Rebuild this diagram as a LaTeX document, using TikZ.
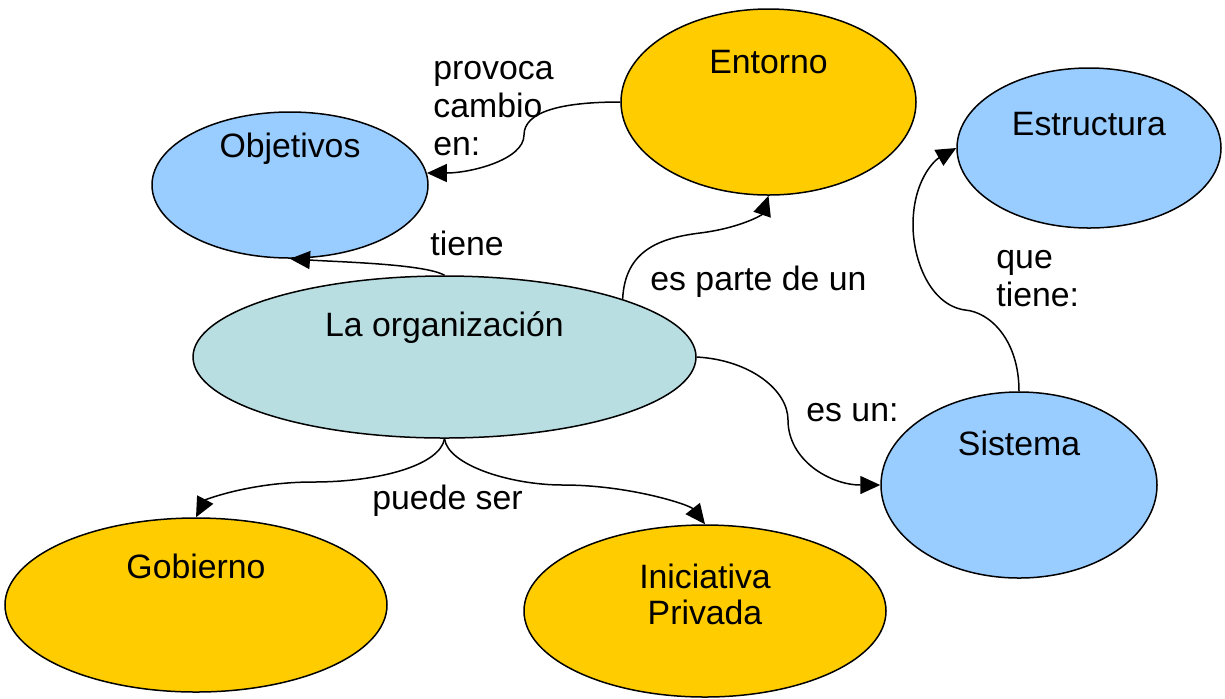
\documentclass[tikz,border=0pt]{standalone}
\usepackage{fontspec}
\setmainfont{Liberation Sans}
\usetikzlibrary{shapes.geometric,arrows.meta}
\definecolor{cyel}{HTML}{FFCC00}
\definecolor{cblu}{HTML}{99CCFF}
\definecolor{cteal}{RGB}{184,222,226}
\begin{document}
\begin{tikzpicture}[x=0.5pt,y=-0.5pt,
  font=\fontsize{16.9}{19}\selectfont,
  oval/.style={ellipse,draw=black,line width=0.75pt,inner sep=0pt},
  conn/.style={line width=0.75pt,-{Triangle[length=10pt,width=9pt]}},
  lbl/.style={anchor=base west,inner sep=0pt}]
\useasboundingbox (0,0) rectangle (1225,698);
\node[oval,fill=cyel,minimum width=147.5pt,minimum height=93pt,
  label={[anchor=base,yshift=20pt]center:Entorno}] (ent) at (768.5,102) {};
\node[oval,fill=cblu,minimum width=138pt,minimum height=73pt,
  label={[anchor=base,yshift=18pt]center:Objetivos}] (obj) at (290,185) {};
\node[oval,fill=cblu,minimum width=132pt,minimum height=80pt,
  label={[anchor=base,yshift=12pt]center:Estructura}] (est) at (1089,148) {};
\node[oval,fill=cteal,minimum width=251.5pt,minimum height=81pt,
  label={[anchor=base,yshift=14.5pt]center:La organización}] (org) at (444.5,357) {};
\node[oval,fill=cblu,minimum width=138pt,minimum height=93pt,
  label={[anchor=base,yshift=21pt]center:Sistema}] (sis) at (1019,485) {};
\node[oval,fill=cyel,minimum width=191pt,minimum height=87pt,
  label={[anchor=base,yshift=19.5pt]center:Gobierno}] (gob) at (196,605) {};
\node[oval,fill=cyel,minimum width=181pt,minimum height=86pt,
  label={[anchor=base,yshift=8.5pt]center:{\vtop{\baselineskip=18pt\hbox to 0pt{\hss Iniciativa\hss}\hbox to 0pt{\hss Privada\hss}}}}] (ini) at (705,611) {};
% connectors
\draw[conn] (ent.west) .. controls (560,102) and (524,112) .. (524,135)
  .. controls (524,160) and (470,173) .. (obj.5);
\draw[conn] (org.north) .. controls (425,264) and (340,262) .. (obj.south);
\draw[conn] (org.18) .. controls (625,250) and (660,238) .. (700,233)
  .. controls (740,228) and (762,215) .. (ent.south);
\draw[conn] (org.east) .. controls (750,360) and (788,390) .. (788,420)
  .. controls (788,460) and (830,485) .. (sis.west);
\draw[conn] (sis.north) .. controls (1019,340) and (990,312) .. (965,310)
  .. controls (930,305) and (913,260) .. (913,225)
  .. controls (913,180) and (935,160) .. (est.west);
\draw[conn] (org.south) .. controls (440,465) and (380,482) .. (313,482)
  .. controls (250,482) and (205,500) .. (gob.north);
\draw[conn] (org.south) .. controls (448,465) and (510,485) .. (563,485)
  .. controls (630,485) and (690,505) .. (ini.north);
% labels
\node[lbl] (l1) at (433,79) {\vtop{\baselineskip=19pt\hbox{provoca}\hbox{cambio}\hbox{en:}}};
\node[lbl] (l2) at (430,255) {tiene};
\node[lbl] (l3) at (650,290) {es parte de un};
\node[lbl] (l4) at (806,421) {es un:};
\node[lbl] (l5) at (996,268) {\vtop{\baselineskip=19pt\hbox{que}\hbox{tiene:}}};
\node[lbl] (l6) at (372,509) {puede ser};
\end{tikzpicture}
\end{document}
